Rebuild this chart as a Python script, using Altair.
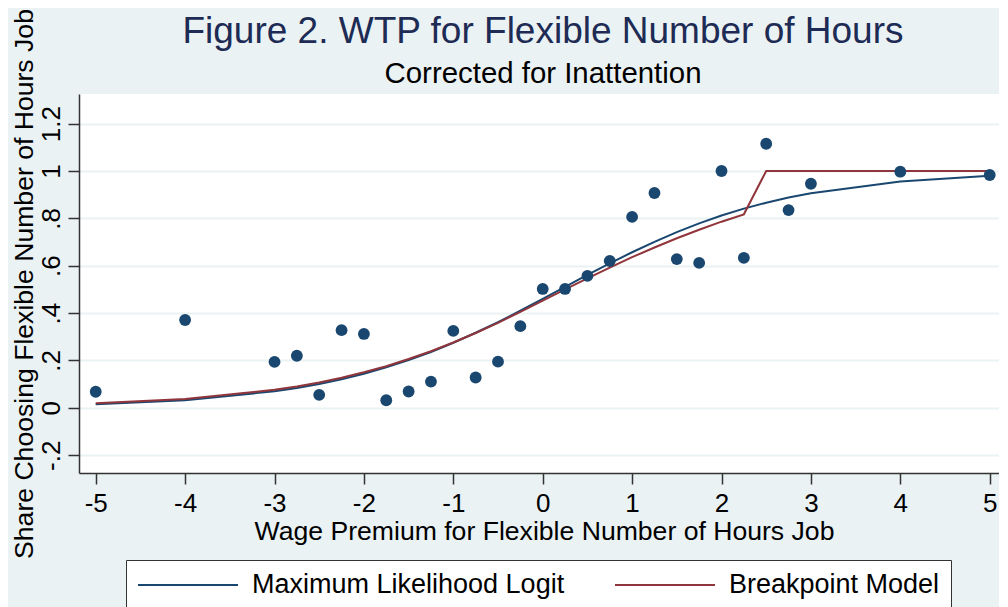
import altair as alt
import pandas as pd

# ---- data ----
WAGE_PREMIUM = [-5, -4, -3, -2.75, -2.5, -2.25, -2, -1.75, -1.5, -1.25, -1, -0.75, -0.5, -0.25,
                0, 0.25, 0.5, 0.75, 1, 1.25, 1.5, 1.75, 2, 2.25, 2.5, 2.75, 3, 4, 5]
SHARE = [0.068, 0.371, 0.194, 0.220, 0.055, 0.328, 0.312, 0.032, 0.069, 0.111, 0.325, 0.128,
         0.195, 0.345, 0.502, 0.502, 0.557, 0.620, 0.806, 0.907, 0.628, 0.612, 1.000, 0.633,
         1.115, 0.835, 0.946, 0.997, 0.983]
LOGIT_FIT = [0.015, 0.032, 0.070, 0.084, 0.101, 0.121, 0.144, 0.171, 0.202, 0.236, 0.275, 0.317,
             0.362, 0.410, 0.460, 0.511, 0.561, 0.610, 0.657, 0.701, 0.742, 0.779, 0.812, 0.841,
             0.866, 0.888, 0.906, 0.956, 0.980]
BREAKPOINT_FIT = [0.019, 0.037, 0.076, 0.090, 0.107, 0.127, 0.150, 0.176, 0.206, 0.239, 0.276,
                  0.316, 0.359, 0.405, 0.453, 0.500, 0.547, 0.592, 0.636, 0.677, 0.716, 0.752,
                  0.786, 0.817, 1.0, 1.0, 1.0, 1.0, 1.0]
SERIES = ["Maximum Likelihood Logit", "Breakpoint Model"]
SERIES_COLORS = ["#1a476f", "#90353b"]
X_TICKS = [-5, -4, -3, -2, -1, 0, 1, 2, 3, 4, 5]
X_TICK_LABELS = ["-5", "-4", "-3", "-2", "-1", "0", "1", "2", "3", "4", "5"]
Y_TICKS = [-0.2, 0, 0.2, 0.4, 0.6, 0.8, 1.0, 1.2]
Y_TICK_LABELS = ["-.2", "0", ".2", ".4", ".6", ".8", "1", "1.2"]

FONT = "Liberation Sans"
BG = "#eaf2f3"


def label_expr(ticks, labels):
    expr = "''"
    for v, lab in reversed(list(zip(ticks, labels))):
        expr = f"abs(datum.value - ({v})) < 1e-6 ? '{lab}' : ({expr})"
    return expr


points = pd.DataFrame({"x": WAGE_PREMIUM, "share": SHARE})
lines = pd.concat([
    pd.DataFrame({"x": WAGE_PREMIUM, "y": LOGIT_FIT, "model": SERIES[0], "order": 0}),
    pd.DataFrame({"x": WAGE_PREMIUM, "y": BREAKPOINT_FIT, "model": SERIES[1], "order": 1}),
])

x_scale = alt.Scale(domain=[-5.187, 5.104], nice=False, zero=False)
y_scale = alt.Scale(domain=[-0.275, 1.325], nice=False, zero=False)

x_axis = alt.Axis(
    values=X_TICKS, labelExpr=label_expr(X_TICKS, X_TICK_LABELS),
    title="Wage Premium for Flexible Number of Hours Job",
    grid=False, tickSize=11, labelPadding=6, titlePadding=2,
    labelFontSize=26, titleFontSize=26.6, labelFlush=False, titleX=465,
)
y_axis = alt.Axis(
    values=Y_TICKS, labelExpr=label_expr(Y_TICKS, Y_TICK_LABELS),
    title="Share Choosing Flexible Number of Hours Job",
    grid=True, gridColor=BG, gridWidth=2,
    tickSize=11, labelAngle=270, labelAlign="center", labelBaseline="alphabetic",
    labelPadding=9, titlePadding=0, labelFontSize=26, titleFontSize=26.6, labelFlush=False,
)

line_layer = alt.Chart(lines).mark_line(strokeWidth=2).encode(
    x=alt.X("x:Q", scale=x_scale, axis=x_axis),
    y=alt.Y("y:Q", scale=y_scale, axis=y_axis),
    color=alt.Color(
        "model:N",
        scale=alt.Scale(domain=SERIES, range=SERIES_COLORS),
        sort=SERIES,
        legend=alt.Legend(
            title=None, orient="none", direction="horizontal",
            legendX=47, legendY=466,
            symbolType="stroke", symbolSize=10000, symbolStrokeWidth=2,
            clipHeight=28, labelOffset=13, columnPadding=49, padding=11,
            labelFontSize=27, labelFont=FONT, labelColor="black", labelLimit=600,
            strokeColor="#333", fillColor="white",
        ),
    ),
    detail="model:N",
    order="order:Q",
)

point_layer = alt.Chart(points).mark_circle(size=140, opacity=1, color="#1a476f").encode(
    x=alt.X("x:Q", scale=x_scale),
    y=alt.Y("share:Q", scale=y_scale),
)

chart = alt.layer(line_layer, point_layer).properties(
    width=920,
    height=379,
    background=BG,
    padding={"left": 2, "top": 0, "right": 0, "bottom": 0},
    title=alt.TitleParams(
        text="Figure 2. WTP for Flexible Number of Hours",
        subtitle="Corrected for Inattention",
        font=FONT, subtitleFont=FONT, fontSize=37, subtitleFontSize=29.4,
        fontWeight="normal", color="#1d2b55", subtitleColor="black",
        anchor="middle", frame="group", offset=-81, subtitlePadding=9, dx=4,
    ),
).configure_view(
    fill="white", stroke=None,
).configure_axis(
    labelFont=FONT, titleFont=FONT, labelColor="black", titleColor="black",
    titleFontWeight="normal", domainColor="#333", domainWidth=1.5,
    tickColor="#333", tickWidth=1.5,
)

chart.save("out.html", embed_options={"renderer": "svg", "actions": False})
